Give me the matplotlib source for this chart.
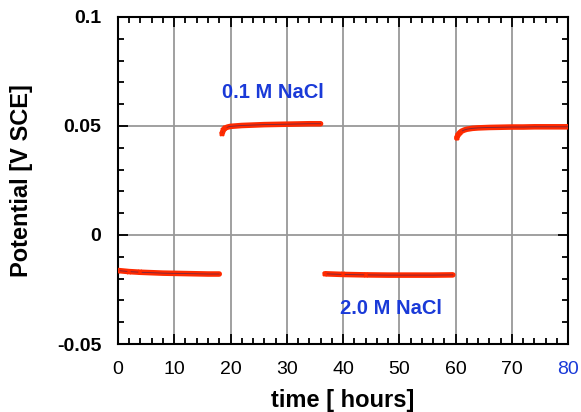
import matplotlib
matplotlib.use("Agg")
from matplotlib import pyplot as plt
from matplotlib.ticker import MultipleLocator

plt.rcParams['font.family'] = ['Liberation Sans', 'DejaVu Sans']

# time [hours] and potential [V SCE] for each solution period
seg1_t = [0, 2, 4, 6, 8, 10, 12, 14, 16, 18]
seg1_v = [-0.0163, -0.0168, -0.0171, -0.0173, -0.0175, -0.0176, -0.0177, -0.0178, -0.0179, -0.0179]

seg2_t = [18.5, 18.7, 19.0, 19.5, 20, 21, 22, 24, 26, 28, 30, 32, 34, 36]
seg2_v = [0.0465, 0.0480, 0.0490, 0.0495, 0.0498, 0.0500, 0.0502, 0.0504, 0.0506, 0.0507, 0.0508, 0.0509, 0.0510, 0.0510]

seg3_t = [36.8, 40, 44, 48, 52, 56, 59.5]
seg3_v = [-0.0178, -0.0181, -0.0183, -0.0184, -0.0184, -0.0184, -0.0183]

seg4_t = [60.2, 60.4, 60.7, 61, 61.5, 62, 63, 64, 66, 68, 70, 72, 74, 76, 78, 80]
seg4_v = [0.0445, 0.0458, 0.0468, 0.0475, 0.0481, 0.0485, 0.0489, 0.0491, 0.0493, 0.0494, 0.0495, 0.0495, 0.0496, 0.0496, 0.0496, 0.0496]

segments = [(seg1_t, seg1_v), (seg2_t, seg2_v), (seg3_t, seg3_v), (seg4_t, seg4_v)]

blue = '#1a3ad8'

fig = plt.figure(figsize=(5.81, 4.12), dpi=100)
ax = fig.add_axes([0.203, 0.165, 0.775, 0.794])

for t, v in segments:
    ax.plot(t, v, color='#ff2a00', lw=4, solid_capstyle='round', zorder=3)
    ax.plot(t, v, color='#222266', lw=0.6, zorder=4, alpha=0.6)
    ax.plot(t[:3], v[:3], 'x', color='#ff2a00', ms=3, mew=1.2, zorder=5)

ax.text(27.6, 0.0652, '0.1 M NaCl', color=blue, fontsize=14.5, fontweight='bold', ha='center', va='center')
ax.text(48.5, -0.0335, '2.0 M NaCl', color=blue, fontsize=14.5, fontweight='bold', ha='center', va='center')

ax.set_xlim(0, 80)
ax.set_ylim(-0.05, 0.1)
ax.xaxis.set_minor_locator(MultipleLocator(2))
ax.yaxis.set_minor_locator(MultipleLocator(0.01))
ax.set_yticks([-0.05, 0, 0.05, 0.1])
ax.set_yticklabels(['-0.05', '0', '0.05', '0.1'], fontweight='bold', fontsize=14)
ax.set_xticks(range(0, 81, 10))
ax.set_xticklabels([str(i) for i in range(0, 81, 10)], fontsize=14)
ax.get_xticklabels()[-1].set_color(blue)

ax.tick_params(which='both', direction='in', top=True, right=True, width=1.3)
ax.tick_params(which='major', length=7)
ax.tick_params(which='minor', length=4)
ax.tick_params(axis='x', pad=12)
ax.tick_params(axis='y', pad=12)
for s in ax.spines.values():
    s.set_linewidth(1.5)

ax.grid(True, which='major', color='#999999', lw=1.3)
ax.set_axisbelow(True)

ax.set_xlabel('time [ hours]', fontsize=17, fontweight='bold', labelpad=8)
ax.set_ylabel('Potential [V SCE]', fontsize=17, fontweight='bold', labelpad=17)

fig.savefig('out.png', dpi=100)
